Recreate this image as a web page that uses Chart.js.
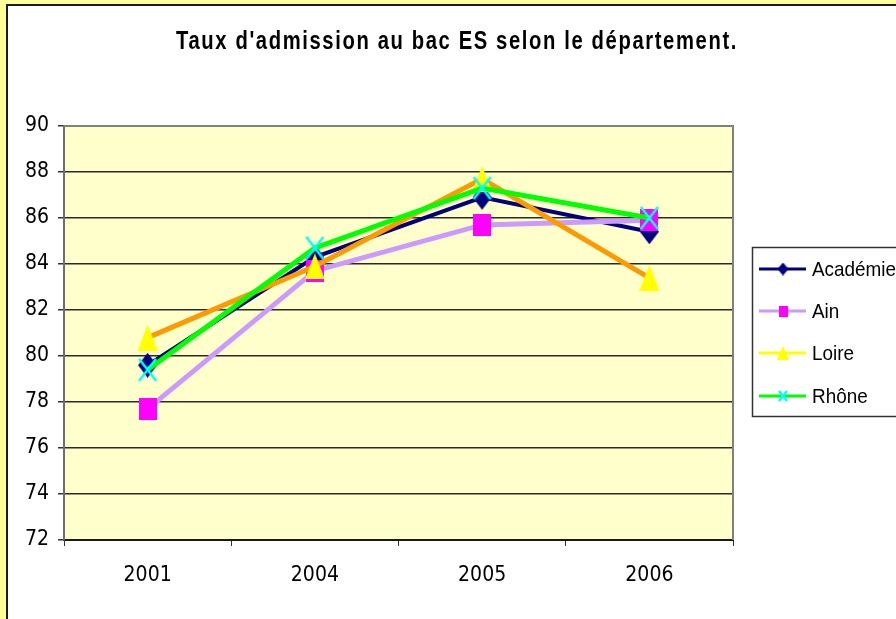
<!DOCTYPE html>
<html>
<head>
<meta charset="utf-8">
<script src="https://cdn.jsdelivr.net/npm/chart.js@4.4.0/dist/chart.umd.min.js"></script>
<style>
  html, body { margin: 0; padding: 0; background: #ffffff; }
  #wrap { width: 896px; height: 619px; }
</style>
</head>
<body>
<div id="wrap"><canvas id="myChart" width="896" height="619"></canvas></div>
<script>
// ********* DATA *********
const years = ["2001", "2004", "2005", "2006"];
const academie = [79.6, 84.3, 86.9, 85.4];
const ain = [77.7, 83.7, 85.7, 85.9];
const loire = [80.8, 83.9, 87.7, 83.4];
const rhone = [79.4, 84.7, 87.3, 86.0];
const seriesNames = ["Académie", "Ain", "Loire", "Rhône"];
const yMin = 72;
const yMax = 90;
const yStep = 2;
const chartTitle = "Taux d'admission au bac ES selon le département.";

const tickFont = "'DejaVu Sans Condensed', 'Liberation Sans', Arial, sans-serif";
const textFont = "'Liberation Sans', Arial, sans-serif";

// ********* MARKERS *********
const makeMarker = (w, h, drawFn) => {
  const c = document.createElement("canvas");
  c.width = w;
  c.height = h;
  drawFn(c.getContext("2d"), w, h);
  return c;
};

const diamond = (w, h, color) =>
  makeMarker(w, h, (g) => {
    g.fillStyle = color;
    g.beginPath();
    g.moveTo(w / 2, 0);
    g.lineTo(w, h / 2);
    g.lineTo(w / 2, h);
    g.lineTo(0, h / 2);
    g.closePath();
    g.fill();
  });

const square = (w, h, color) =>
  makeMarker(w, h, (g) => {
    g.fillStyle = color;
    g.fillRect(0, 0, w, h);
  });

const triangle = (w, h, color) =>
  makeMarker(w, h, (g) => {
    g.fillStyle = color;
    g.beginPath();
    g.moveTo(w / 2, 0);
    g.lineTo(w, h);
    g.lineTo(0, h);
    g.closePath();
    g.fill();
  });

const cross = (w, h, color) =>
  makeMarker(w, h, (g) => {
    g.strokeStyle = color;
    g.lineWidth = 2.5;
    g.beginPath();
    g.moveTo(1, 1);
    g.lineTo(w - 1, h - 1);
    g.moveTo(w - 1, 1);
    g.lineTo(1, h - 1);
    g.stroke();
  });

const bigMarkers = [
  diamond(19, 25, "#000080"),
  square(18, 22, "#FF00FF"),
  triangle(20, 26, "#FFFF00"),
  cross(19, 24, "#00FFFF"),
];
const smallMarkers = [
  diamond(11, 13, "#000080"),
  square(9, 11, "#FF00FF"),
  triangle(12, 14, "#FFFF00"),
  cross(10, 12, "#00FFFF"),
];
const lineColors = ["#000080", "#CC99FF", "#FF9900", "#00FF00"];
const legendLineColors = ["#000080", "#CC99FF", "#FFFF00", "#00FF00"];

// draw text squeezed horizontally (the original font is a narrow Arial)
const drawSqueezed = (ctx, text, x, y, scaleX, align) => {
  ctx.save();
  ctx.translate(x, y);
  ctx.scale(scaleX, 1);
  ctx.textAlign = align;
  ctx.fillText(text, 0, 0);
  ctx.restore();
};

// ********* PLUGINS *********
const framePlugin = {
  id: "frame",
  beforeDraw: (chart) => {
    const ctx = chart.ctx;
    const a = chart.chartArea;
    ctx.save();
    ctx.fillStyle = "#FFFF99";
    ctx.fillRect(0, 0, chart.width, chart.height);
    ctx.fillStyle = "#ffffff";
    ctx.fillRect(7, 5, chart.width - 7, chart.height - 5);
    ctx.fillStyle = "#1a1a1a";
    ctx.fillRect(6, 4, chart.width - 6, 2);
    ctx.fillRect(6, 4, 2, chart.height - 4);
    // plot area
    ctx.fillStyle = "#FFFFCC";
    ctx.fillRect(a.left, a.top, a.right - a.left, a.bottom - a.top);
    ctx.restore();
  },
  beforeDatasetsDraw: (chart) => {
    const ctx = chart.ctx;
    const a = chart.chartArea;
    ctx.save();
    ctx.fillStyle = "#808080";
    ctx.fillRect(a.left, a.top - 1, a.right - a.left, 2);
    ctx.fillRect(a.right - 1, a.top - 1, 2, a.bottom - a.top + 1);
    ctx.restore();
  },
  afterDraw: (chart) => {
    const ctx = chart.ctx;
    ctx.save();
    // title
    ctx.fillStyle = "#000000";
    ctx.font = "bold 25px " + textFont;
    ctx.letterSpacing = "2px";
    ctx.textBaseline = "middle";
    const tw = ctx.measureText(chartTitle).width;
    drawSqueezed(ctx, chartTitle, 457, 42, 562 / tw, "center");
    ctx.letterSpacing = "0px";

    // legend
    const lx = 752, ly = 247, lw = 170, lh = 169;
    ctx.fillStyle = "#ffffff";
    ctx.fillRect(lx, ly, lw, lh);
    ctx.strokeStyle = "#333333";
    ctx.lineWidth = 1.5;
    ctx.strokeRect(lx + 0.5, ly + 0.5, lw, lh);
    const rows = [269, 311, 353, 396];
    ctx.font = "21px " + textFont;
    ctx.textBaseline = "middle";
    seriesNames.forEach((name, i) => {
      const y = rows[i];
      ctx.strokeStyle = legendLineColors[i];
      ctx.lineWidth = 3;
      ctx.beginPath();
      ctx.moveTo(759, y);
      ctx.lineTo(806, y);
      ctx.stroke();
      const m = smallMarkers[i];
      ctx.drawImage(m, 783 - m.width / 2, y - m.height / 2);
      ctx.fillStyle = "#000000";
      drawSqueezed(ctx, name, 812, y + 1, 0.9, "left");
    });
    ctx.restore();
  },
};

// ********* CHART *********
const seriesData = [academie, ain, loire, rhone];
const lineWidths = [4, 5, 5, 5];

const datasets = seriesNames.map((name, i) => ({
  label: name,
  data: seriesData[i],
  borderColor: lineColors[i],
  backgroundColor: lineColors[i],
  borderWidth: lineWidths[i],
  pointStyle: bigMarkers[i],
  pointRadius: 10,
  pointHoverRadius: 10,
  tension: 0,
  order: 4 - i,
}));

const ctx = document.getElementById("myChart");
new Chart(ctx, {
  type: "line",
  data: { labels: years, datasets: datasets },
  plugins: [framePlugin],
  options: {
    responsive: false,
    animation: false,
    layout: { padding: { top: 126, right: 163, left: 0, bottom: 0 } },
    plugins: {
      legend: { display: false },
      title: { display: false },
      tooltip: { enabled: false },
    },
    scales: {
      x: {
        offset: true,
        afterFit: (scale) => {
          scale.height = 79;
        },
        grid: {
          offset: true,
          drawOnChartArea: false,
          drawTicks: true,
          tickLength: 6,
          tickColor: "#333333",
        },
        border: { display: true, color: "#1a1a1a", width: 2 },
        ticks: {
          color: "#000000",
          font: { family: tickFont, size: 21 },
          padding: 17,
          maxRotation: 0,
        },
      },
      y: {
        min: yMin,
        max: yMax,
        afterFit: (scale) => {
          scale.width = 64;
        },
        grid: {
          color: (c) => (c.tick && c.tick.value === yMax ? "#808080" : "#2a2a2a"),
          lineWidth: 1.5,
          tickLength: 6,
          tickColor: "#333333",
        },
        border: { display: true, color: "#6e6e6e", width: 2 },
        ticks: {
          stepSize: yStep,
          color: "#000000",
          font: { family: tickFont, size: 21 },
          padding: 9,
        },
      },
    },
  },
});
</script>
</body>
</html>
